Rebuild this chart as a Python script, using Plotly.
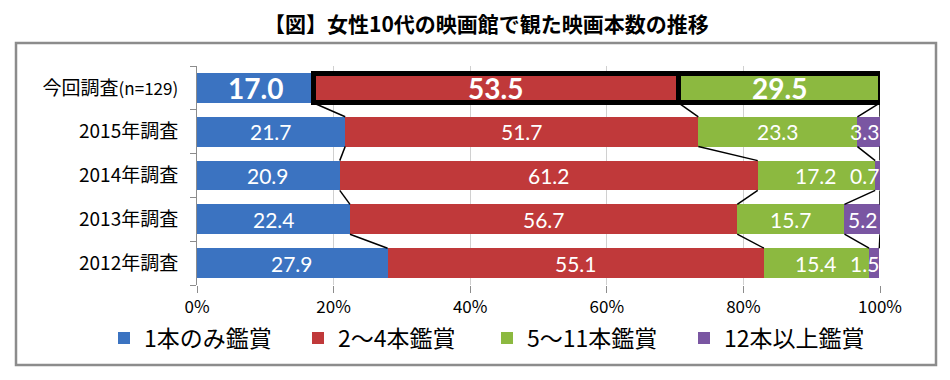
import plotly.graph_objects as go

categories = ["今回調査<span style='font-size:17px'>(n=129)</span>", "2015年調査", "2014年調査", "2013年調査", "2012年調査"]
series_names = ["1本のみ鑑賞", "2～4本鑑賞", "5～11本鑑賞", "12本以上鑑賞"]
one_only = [17.0, 21.7, 20.9, 22.4, 27.9]
two_to_four = [53.5, 51.7, 61.2, 56.7, 55.1]
five_to_eleven = [29.5, 23.3, 17.2, 15.7, 15.4]
twelve_plus = [0.0, 3.3, 0.7, 5.2, 1.5]
x_ticks = [0, 20, 40, 60, 80, 100]
x_tick_labels = ["0%", "20%", "40%", "60%", "80%", "100%"]

colors = ["#3B73C1", "#C0393A", "#8CB940", "#7A56A2"]
series = [one_only, two_to_four, five_to_eleven, twelve_plus]
pos = list(range(len(categories)))
BW = 0.68

JP = "Noto Sans CJK JP"
NUM = "Lato"

# page body offset compensation (browser default body margin)
OFF = 8
W, H = 950, 380
L, R, T, B = 197 - OFF, 70 + OFF, 66 - OFF, 95 + OFF
PW, PH = 683, 219  # plot area size in px

def px_x(x):
    return (x - 197) / PW

def px_y(y):
    return (285 - y) / PH

legend_ids = ["legend", "legend2", "legend3", "legend4"]
legend_left_px = [104, 298, 487, 684]

fig = go.Figure()
for k, (name, vals, col) in enumerate(zip(series_names, series, colors)):
    lg = legend_ids[k]
    if k in (1, 2):
        fig.add_trace(go.Bar(
            y=pos[1:], x=vals[1:], name=name, orientation="h", width=BW,
            marker=dict(color=col, line=dict(width=0)), legendgroup=name, legend=lg,
            hoverinfo="skip",
        ))
        fig.add_trace(go.Bar(
            y=pos[:1], x=vals[:1], name=name, orientation="h", width=BW,
            marker=dict(color=col, line=dict(color="black", width=5)), legendgroup=name,
            legend=lg, showlegend=False, hoverinfo="skip",
        ))
    else:
        fig.add_trace(go.Bar(
            y=pos, x=vals, name=name, orientation="h", width=BW,
            marker=dict(color=col, line=dict(width=0)), legend=lg,
            hoverinfo="skip",
        ))

# connector (series) lines
cum = []
for i in pos:
    c, row = 0, []
    for s in series:
        c += s[i]
        row.append(c)
    cum.append(row)
lx, ly = [], []
for k in range(4):
    for i in range(len(pos) - 1):
        lx += [cum[i][k], cum[i + 1][k], None]
        ly += [pos[i] + BW / 2, pos[i + 1] - BW / 2, None]
fig.add_trace(go.Scatter(x=lx, y=ly, mode="lines", line=dict(color="black", width=1.5),
                         showlegend=False, hoverinfo="skip", cliponaxis=False))

# data labels
annotations = []
for i in pos:
    start = 0
    for k, s in enumerate(series):
        v = s[i]
        if v > 0:
            cx = start + v / 2
            if k == 3:
                cx = min(cx, 97.8)
            first = (i == 0)
            annotations.append(dict(
                x=cx, y=pos[i], xref="x", yref="y", text=f"{v:.1f}", showarrow=False,
                font=dict(family=NUM, size=28 if first else 21, color="white",
                          weight="bold" if first else "normal"),
                xanchor="center", yanchor="middle",
            ))
        start += v

annotations.append(dict(
    text="<b>【図】女性10代の映画館で観た映画本数の推移</b>", xref="paper", yref="paper",
    x=px_x(486), y=px_y(23), xanchor="center", yanchor="middle", borderpad=0,
    showarrow=False, font=dict(family=JP, size=21, color="black"),
))

legend_common = dict(orientation="h", xref="container", yref="paper", y=px_y(338),
                     xanchor="left", yanchor="middle",
                     font=dict(family=JP, size=23, color="black"),
                     itemwidth=30, bgcolor="rgba(0,0,0,0)")
legends = {lid: dict(legend_common, x=(lx_ - OFF) / W) for lid, lx_ in zip(legend_ids, legend_left_px)}

fig.update_layout(
    width=W, height=H,
    margin=dict(l=L, r=R, t=T, b=B, autoexpand=False),
    barmode="stack", bargap=0.32,
    paper_bgcolor="white", plot_bgcolor="white",
    font=dict(family=JP, color="black"),
    annotations=annotations,
    shapes=[dict(type="rect", xref="paper", yref="paper",
                 x0=px_x(16), x1=px_x(936), y0=px_y(365), y1=px_y(43),
                 line=dict(color="#8C8C8C", width=2.5), layer="below")],
    xaxis=dict(range=[0, 100], tickvals=x_ticks, ticktext=x_tick_labels,
               showgrid=True, gridcolor="#D0D0D0", gridwidth=1, zeroline=False,
               ticks="outside", ticklen=7, tickcolor="#8C8C8C", showline=False,
               automargin=False,
               tickfont=dict(family=JP, size=17, color="black")),
    yaxis=dict(range=[len(pos) - 0.5, -0.5], tickvals=pos, ticktext=categories,
               ticks="", showgrid=False, zeroline=False,
               showline=True, linecolor="#8C8C8C", linewidth=1,
               minor=dict(tickvals=[p - 0.5 for p in pos] + [pos[-1] + 0.5], ticks="outside",
                          ticklen=6, tickcolor="#8C8C8C", showgrid=False),
               ticklabelstandoff=14, automargin=False,
               tickfont=dict(family=JP, size=19, color="black")),
    **legends,
)

fig.write_html("out.html")
